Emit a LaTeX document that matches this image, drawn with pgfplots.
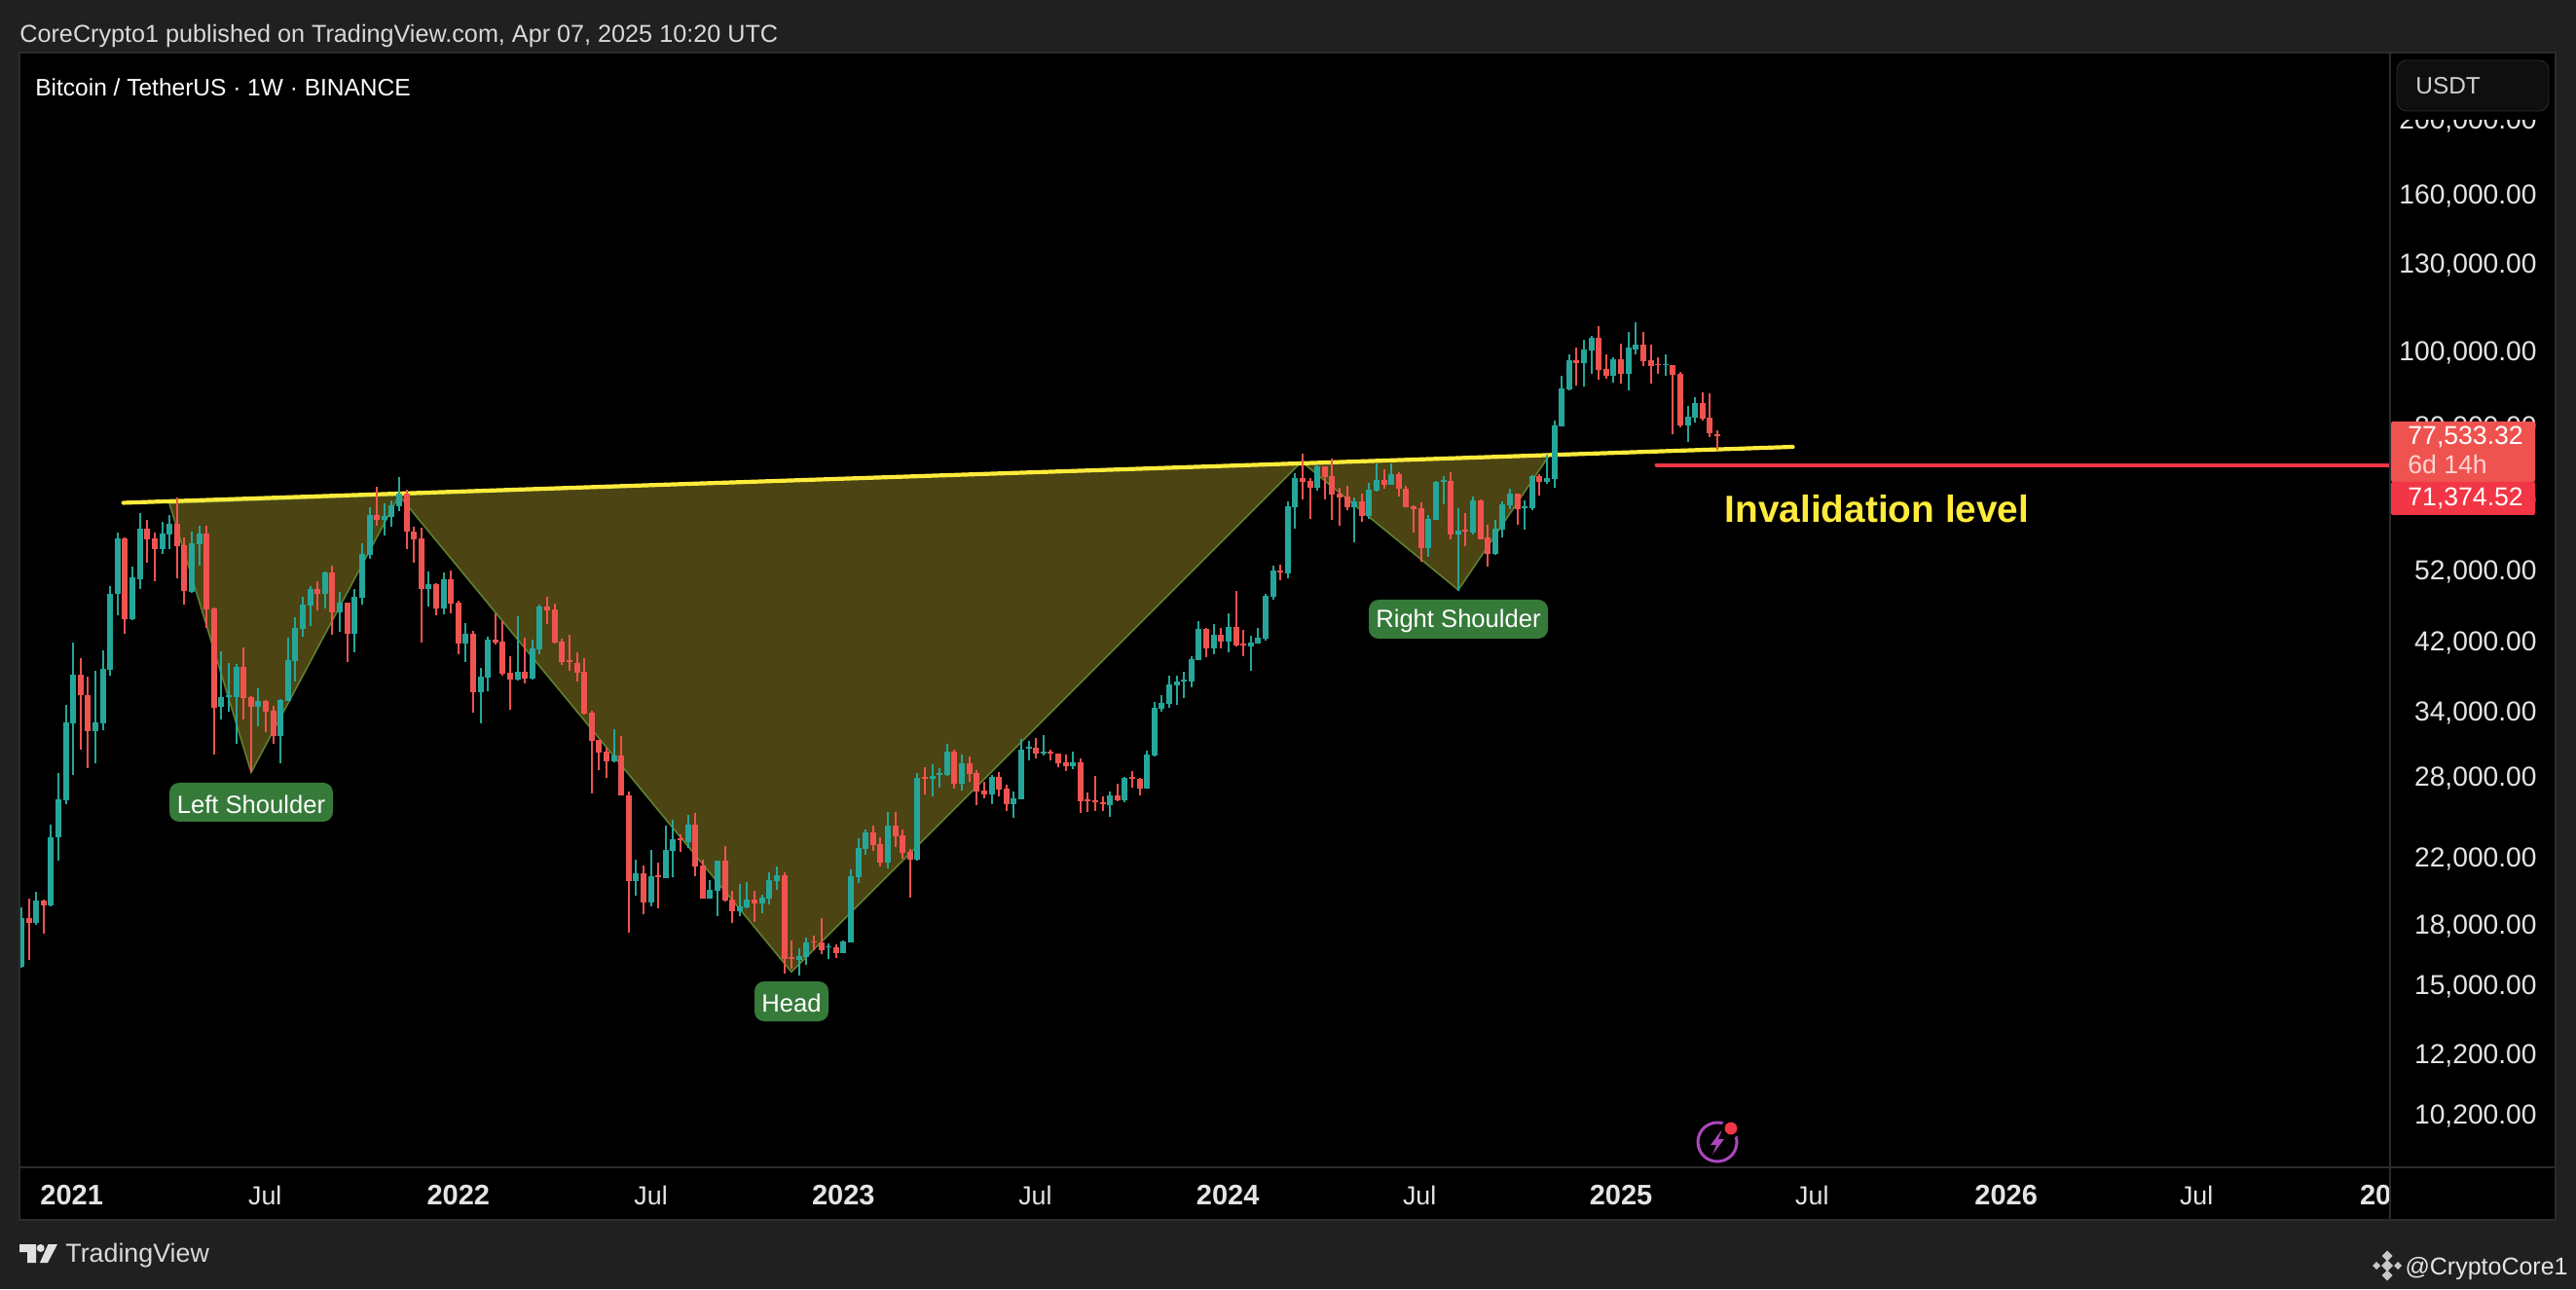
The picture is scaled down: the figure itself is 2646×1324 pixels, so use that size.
\documentclass[border=0pt]{standalone}
\usepackage{fontspec}
\setmainfont{Liberation Sans}
\usepackage{pgfplots}
\usepackage{pgfplotstable}
\pgfplotsset{compat=1.18}
\definecolor{up}{HTML}{26A69A}
\definecolor{down}{HTML}{EF5350}
\definecolor{frameBg}{HTML}{202020}
\definecolor{lineGrey}{HTML}{2B2B2B}
\definecolor{tagGreen}{HTML}{367A3A}
\definecolor{patFill}{HTML}{4C4412}
\definecolor{patLine}{HTML}{5F8030}
\definecolor{yel}{HTML}{FFEB3B}
\definecolor{inval}{HTML}{F23645}
\definecolor{tick}{HTML}{E4E4E4}
\definecolor{bolt}{HTML}{AB47BC}
\newcommand{\fs}[1]{\fontsize{#1}{#1}\selectfont}
\newcommand{\yr}[1]{{\fs{14.5}\bfseries #1}}
\pgfplotstableread{
x low bl bh high
0 15800 15835 18316 18934
2 17971 18080 19317 19808
4 18972 19048 23353 24211
5 21790 23306 26157 28287
6 25793 26105 32880 34644
7 28088 32814 37995 41752
10 29150 32066 32880 38415
11 32195 32814 38647 40840
12 37919 38532 48390 49518
13 45380 48300 57105 58085
15 44702 44792 50828 52486
16 49120 50525 58790 61630
19 54530 55300 57968 59980
20 55300 57795 59680 61260
23 48490 48635 56310 58260
24 52645 56140 57968 59260
27 33250 34500 35520 40715
28 34020 35560 35700 39310
29 30900 35520 38880 39190
32 32575 34500 35100 36460
35 29150 31620 35210 35310
36 35050 35100 39660 42430
37 37250 39545 43690 45120
38 42600 43560 46860 47900
39 43870 46720 49070 49518
41 46350 48390 51550 51710
43 43160 45750 47100 48635
45 40635 42900 47900 49070
46 46770 47810 54530 56310
47 53760 54370 61260 62630
49 57680 60342 61080 63390
50 59150 60900 63070 63960
51 62030 62950 65320 68620
55 46570 49120 49860 51710
57 45430 46350 50525 51500
60 39470 41620 42900 44300
62 32850 36030 37770 38760
63 36175 37650 42180 42560
67 37345 37420 38305 45260
69 37460 37535 41090 42180
70 40310 40965 46570 46860
80 29235 29295 29830 32260
83 19610 20496 20955 21830
85 18990 19200 20770 22470
87 20670 20670 22470 24160
88 20690 22400 23215 24570
90 22610 23000 24240 24970
93 19430 19430 19950 20560
94 18445 19890 21770 21770
97 18445 18705 18970 20290
98 18870 18910 19375 20410
100 18610 19163 19495 19650
101 19105 19430 20540 21020
102 19970 20480 20830 21380
105 15430 16173 16365 16749
106 15940 16315 17040 17290
109 16219 16790 16840 16990
111 16505 16505 17090 17144
112 17040 17040 20780 21210
113 20360 20720 22585 23270
114 22180 22520 23690 23895
117 21270 21645 24175 25170
121 21770 21835 27870 28290
123 26385 27790 28040 29050
124 27065 28150 28290 28710
125 28040 28120 30170 30870
127 26830 27370 29140 29930
131 25775 26560 27965 28130
134 24720 25775 26250 26795
135 26170 26170 30320 31335
136 29340 30410 30590 31150
138 29800 29970 30140 31690
142 28630 28850 29190 30140
147 24790 25700 26480 26795
149 25915 26085 27880 27965
152 27035 27035 29880 30230
153 29715 29800 34400 35040
154 33945 34300 34860 35715
155 34400 34770 36890 37870
156 34690 36775 37210 37870
157 35410 37210 37420 38310
158 36560 37210 39790 40140
159 39660 39660 43530 44580
161 40370 41080 42770 44190
163 40610 41895 43790 45680
166 38400 41290 41770 42640
167 41650 41650 42390 43660
168 42025 42270 48080 48365
169 47500 47930 51850 52630
171 50640 51400 62840 63770
172 58795 62640 68400 69400
175 65780 66380 70850 71270
180 56380 62640 63770 64540
182 60520 61050 66060 67490
183 65670 65870 67990 71530
185 66950 66950 69210 71530
190 54030 55500 60520 61220
191 60360 60360 67600 67790
192 63200 67600 67990 68820
194 48838 57770 58490 62460
196 57770 58130 63960 64730
199 54350 54510 58790 60360
200 57260 58660 63200 63770
201 62390 63120 65240 66235
203 58580 62500 62870 64050
204 62130 62500 68810 69010
206 67190 67580 68410 73440
207 66440 68210 80150 81120
208 79930 79930 89460 92890
209 88930 89200 97320 98990
211 90000 96490 100400 103460
212 93500 100220 104060 104680
215 91070 92890 97600 98170
217 88930 93500 100960 105910
218 98990 100400 102000 108980
222 92890 95840 96210 98990
225 76200 80150 82240 84870
226 80660 81860 85560 87100
}\upc
\pgfplotstableread{
x low bl bh high
1 16157 18080 18316 19415
3 17507 19048 19317 19356
8 30376 35667 37995 39870
9 28744 32066 35738 37728
14 42856 44837 57105 57277
17 53070 56990 58790 60342
18 50220 55300 57105 58085
21 50675 55810 59680 64530
22 46770 48780 55975 57277
25 43730 46210 57968 59320
26 29920 34400 46300 46435
30 33250 35450 38880 41210
31 28345 34500 35520 35630
33 32000 34020 35100 35210
34 30900 31620 34090 34610
40 46070 48390 49070 50220
42 42730 45750 51550 52645
44 39470 42900 47100 47100
48 59380 60342 61260 66660
52 55300 58320 65320 66060
53 53070 56930 58320 59150
54 41830 49120 57105 58960
56 45300 46350 49860 49960
58 45570 47000 50525 51860
59 40390 41620 47100 47380
61 33920 36030 42900 43290
64 41500 41790 42180 45660
65 37919 38110 41920 44570
66 34230 37460 38190 40150
68 37030 37535 38305 42430
71 44130 46020 46570 47950
72 41660 41790 46160 46950
73 39150 39430 41920 42300
74 38455 39430 39660 42810
75 37250 38190 39310 40600
76 33650 33750 38305 39915
77 26630 31150 33880 34090
78 28570 30070 31245 31245
79 27920 29295 30150 30515
81 26420 26420 29830 31620
82 17560 20496 26450 26760
84 18555 19200 20955 21440
86 18890 20730 20830 21630
89 22360 23165 23280 23540
91 20750 21380 24240 25100
92 19430 19430 21440 21830
95 19260 19300 21770 22730
96 18080 18705 19375 19890
99 18135 19163 19375 19890
103 15525 16219 20839 21021
104 15738 16235 16315 17144
107 16650 17040 17090 17395
108 16455 16650 17040 18330
110 16265 16505 16790 16940
115 22390 22790 23690 24175
116 21390 21645 22860 23340
118 22650 23410 24175 25170
119 21895 22245 23480 23895
120 19490 21835 22310 22520
122 26535 27790 27950 28795
126 26990 27370 30170 30350
128 27530 28210 29140 29750
129 25700 26795 28295 28550
130 26250 26560 26875 27550
132 26400 26955 27965 28380
133 25250 25775 27035 27310
137 29525 29970 30500 31425
139 29340 29970 30140 30320
140 28770 29105 29970 29970
141 28465 28850 29190 29880
143 25080 25995 29190 29525
144 25160 25995 26170 26715
145 25250 25915 26085 28045
146 25250 25775 25915 26400
148 25995 26085 26480 27395
150 27115 27800 27965 28465
151 26480 27035 27800 27880
160 40020 41080 43530 43660
162 41080 41895 42770 43660
164 41290 41410 43790 48790
165 40140 41450 41650 43400
170 50340 51550 51850 52790
173 64160 67600 68400 73480
174 60520 66380 67790 68400
176 64160 68610 70850 70850
177 60360 65100 68820 72520
178 59309 64540 65290 66380
179 62080 62640 64730 66780
181 59990 61050 63770 65290
184 66150 66950 67990 70240
186 64730 66240 69210 69610
187 62640 62640 66150 66780
188 58110 62270 62840 63000
189 53240 55500 62460 63580
193 56900 57770 67790 69610
195 55760 58310 58660 61680
197 56900 56900 63960 64160
198 52470 54510 57260 59480
202 59490 62390 65240 65240
205 64860 67580 68810 69220
210 90270 96490 97320 101050
213 91780 94480 104060 107780
214 91960 92890 94660 99060
216 90800 93500 97600 102270
219 95630 97030 102000 105910
220 90800 95630 97320 102000
221 93500 95840 96210 98170
223 78000 93230 95930 95930
224 79680 80150 93500 93870
227 81140 81620 85560 88370
228 77340 78240 81860 88100
229 74420 77533.32 78000 78970
}\downc
\pgfplotstableread{
x y
19.98 63420
31.02 28347
51.0 64916
103.98 15600
172.87 71823
194.03 48935
206.4 73430
}\pattern
\begin{document}
\begin{tikzpicture}
\begin{scope}[x=0.5pt,y=-0.5pt,yshift=662pt]
\path[use as bounding box] (0,0) rectangle (2646,1324);
\fill[frameBg] (0,0) rectangle (2646,1324);
\fill[black] (20,54) rectangle (2625,1253);
\end{scope}
\begin{axis}[at={(10pt,62.5pt)},anchor=south west,scale only axis,width=1217.5pt,height=572.5pt,
  ymode=log,xmin=-0.263,xmax=319.84,ymin=8693,ymax=244400,
  axis line style={draw=none},major tick length=0pt,minor tick length=0pt,
  xtick={6.8,32.9,59,85,111,136.9,162.9,188.8,216,241.8,268,293.7,317.9},
  xticklabels={\yr{2021},Jul,\yr{2022},Jul,\yr{2023},Jul,\yr{2024},Jul,\yr{2025},Jul,\yr{2026},Jul,\yr{20}},
  xticklabel style={anchor=base,inner sep=0pt,yshift=-19.25pt,text=tick,font=\fs{13.4}},
  ytick={200000,160000,130000,100000,80000,64000,52000,42000,34000,28000,22000,18000,15000,12200,10200},
  yticklabels={{200,000.00},{160,000.00},{130,000.00},{100,000.00},{80,000.00},{64,000.00},{52,000.00},{42,000.00},{34,000.00},{28,000.00},{22,000.00},{18,000.00},{15,000.00},{12,200.00},{10,200.00}},
  yticklabel pos=right,
  yticklabel style={anchor=base east,inner sep=0pt,xshift=75.5pt,yshift=-5pt,text=tick,font=\fs{14.1}},
]
\addplot[fill=patFill,draw=patLine,line width=0.8pt] table[x=x,y=y] {\pattern} -- cycle;
\addplot[yel,line width=2.1pt,line cap=round] coordinates {(13.76,63513) (239.2,75097)};
\addplot[inval,line width=2.1pt,line cap=round] coordinates {(220.8,71114) (321,71114)};
\addplot[draw=none,mark=none,error bars/.cd,y dir=plus,y explicit,error mark=none,error bar style={line width=1pt,draw=up}]
  table[x=x,y=low,y error plus expr=\thisrow{high}-\thisrow{low}] {\upc};
\addplot[draw=none,mark=none,error bars/.cd,y dir=plus,y explicit,error mark=none,error bar style={line width=3pt,draw=up}]
  table[x=x,y=bl,y error plus expr=\thisrow{bh}-\thisrow{bl}] {\upc};
\addplot[draw=none,mark=none,error bars/.cd,y dir=plus,y explicit,error mark=none,error bar style={line width=1pt,draw=down}]
  table[x=x,y=low,y error plus expr=\thisrow{high}-\thisrow{low}] {\downc};
\addplot[draw=none,mark=none,error bars/.cd,y dir=plus,y explicit,error mark=none,error bar style={line width=3pt,draw=down}]
  table[x=x,y=bl,y error plus expr=\thisrow{bh}-\thisrow{bl}] {\downc};
\end{axis}
\begin{scope}[x=0.5pt,y=-0.5pt,yshift=662pt]
% panel dividers
\draw[lineGrey,line width=1pt] (20,54) rectangle (2625,1253);
\draw[lineGrey,line width=1pt] (2455,54) -- (2455,1253);
\draw[lineGrey,line width=1pt] (20,1199) -- (2625,1199);
% header
\node[anchor=west,inner sep=0,text=white!85!black,font=\fs{12.6}] at (20,36.5) {CoreCrypto1 published on TradingView.com, Apr 07, 2025 10:20 UTC};
\node[anchor=west,inner sep=0,text=white,font=\fs{12.25}] at (36,90) {Bitcoin / TetherUS · 1W · BINANCE};
% pattern tags
\fill[tagGreen,rounded corners=5pt] (174,804) rectangle (342,844);
\node[text=white,inner sep=0,font=\fs{12.8}] at (258,826) {Left Shoulder};
\fill[tagGreen,rounded corners=5pt] (775,1008) rectangle (851,1049);
\node[text=white,inner sep=0,font=\fs{12.8}] at (813,1030) {Head};
\fill[tagGreen,rounded corners=5pt] (1406,616) rectangle (1590,656);
\node[text=white,inner sep=0,font=\fs{12.8}] at (1498,638) {Right Shoulder};
\node[text=yel,inner sep=0,font=\fs{19.4}\bfseries] at (1928,523) {Invalidation level};
% price panel
\fill[black] (2456,55) rectangle (2624,123);
\draw[fill=black!94!white,draw=white!18!black,rounded corners=5pt] (2462,62) rectangle (2618,114);
\node[anchor=west,inner sep=0,text=white!82!black,font=\fs{12.2}] at (2481,88) {USDT};
\fill[down,rounded corners=1pt] (2456,433) rectangle (2604,495);
\fill[inval,rounded corners=1pt] (2456,495) rectangle (2604,529);
\node[anchor=west,inner sep=0,text=white,font=\fs{13.3}] at (2473,449) {77,533.32};
\node[anchor=west,inner sep=0,text=white!75!down,font=\fs{13.3}] at (2473,477) {6d 14h};
\node[anchor=west,inner sep=0,text=white,font=\fs{13.3}] at (2473,512) {71,374.52};
% lightning icon
\draw[bolt,line width=1.5pt] (1764,1173) circle (10pt);
\fill[bolt] (1769,1160) -- (1757,1176) -- (1763,1176) -- (1759,1186) -- (1771,1170) -- (1765,1170) -- cycle;
\fill[black] (1778,1159) circle (5pt);
\fill[inval] (1778,1159) circle (3.2pt);
% footer
\fill[white!88!black] (20,1278) -- (37,1278) -- (37,1297) -- (28,1297) -- (28,1286) -- (20,1286) -- cycle;
\fill[white!88!black] (41.7,1282) circle (2pt);
\fill[white!88!black] (49.5,1278) -- (59,1278) -- (49,1297) -- (41,1297) -- cycle;
\node[anchor=west,inner sep=0,text=white!85!black,font=\fs{13.4}] at (67,1290) {TradingView};
\node[anchor=east,inner sep=0,text=white!90!black,font=\fs{12.5}] at (2638,1303) {@CryptoCore1};
\foreach \cx/\cy/\r in {2452/1290/5.5,2452/1310/5.5,2452/1300/6,2441/1300/4,2463/1300/4}{
  \fill[white!78!black] (\cx-\r,\cy) -- (\cx,\cy-\r) -- (\cx+\r,\cy) -- (\cx,\cy+\r) -- cycle;
}
\end{scope}
\end{tikzpicture}
\end{document}
